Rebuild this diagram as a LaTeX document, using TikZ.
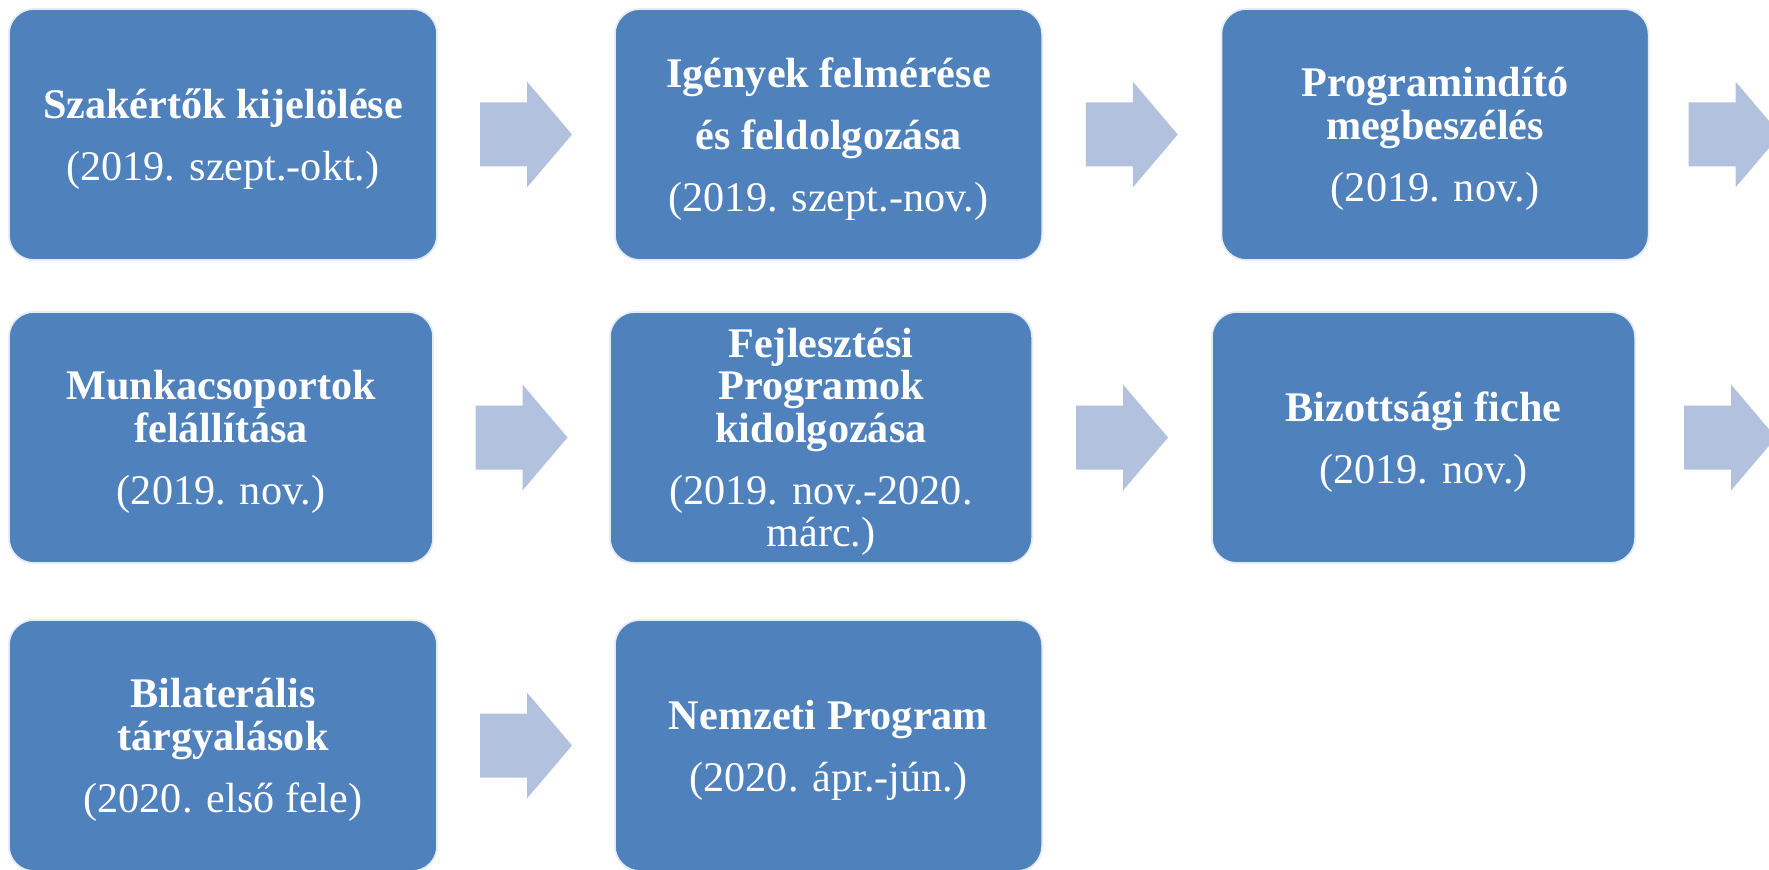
\documentclass[tikz,border=0pt]{standalone}
\usepackage{fontspec}
\setmainfont{Liberation Serif}
\usepackage{tikz}
\usetikzlibrary{calc,positioning}

\definecolor{boxblue}{HTML}{4F81BD}
\definecolor{arrowblue}{HTML}{B2C1DE}

\begin{document}
\begin{tikzpicture}[x=0.01cm, y=-0.01cm,
        phase/.style = {rectangle, rounded corners=0.25cm, fill=boxblue, draw=white!85!boxblue,
            line width=0.5pt, inner sep=0pt, minimum height=2.51cm},
        phasetext/.style = {text=white, align=center, inner sep=0pt,
            font=\fontsize{12}{12.1}\selectfont},
        flowarrow/.pic = {\fill[arrowblue] (-46,-32) -- (1,-32) -- (1,-53) -- (46,0)
            -- (1,53) -- (1,32) -- (-46,32) -- cycle;}]
    \clip (0,0) rectangle (1769,870);
    % boxes
    \node [phase, minimum width=4.28cm] (b1) at (223,134.5) {};
    \node [phase, minimum width=4.27cm] (b2) at (828.5,134.5) {};
    \node [phase, minimum width=4.27cm] (b3) at (1435,134.5) {};
    \node [phase, minimum width=4.24cm] (b4) at (221,437.5) {};
    \node [phase, minimum width=4.22cm] (b5) at (821,437.5) {};
    \node [phase, minimum width=4.23cm] (b6) at (1423.5,437.5) {};
    \node [phase, minimum width=4.28cm] (b7) at (223,745.5) {};
    \node [phase, minimum width=4.27cm] (b8) at (828.5,745.5) {};
    % texts
    \node [phasetext] (t1) at ([yshift=-0.045cm]b1.center)
        {\textbf{Szakértők kijelölése}\\[5.5pt](2019. szept.-okt.)};
    \node [phasetext] (t2) at ([yshift=-0.045cm]b2.center)
        {\textbf{Igények felmérése}\\[5.5pt]\textbf{és feldolgozása}\\[5.5pt](2019. szept.-nov.)};
    \node [phasetext] (t3) at ([yshift=-0.045cm]b3.center)
        {\textbf{Programindító}\\\textbf{megbeszélés}\\[5.5pt](2019. nov.)};
    \node [phasetext] (t4) at ([yshift=-0.045cm]b4.center)
        {\textbf{Munkacsoportok}\\\textbf{felállítása}\\[5.5pt](2019. nov.)};
    \node [phasetext] (t5) at ([yshift=-0.045cm]b5.center)
        {\textbf{Fejlesztési}\\\textbf{Programok}\\\textbf{kidolgozása}\\[5.5pt](2019. nov.-2020.\\márc.)};
    \node [phasetext] (t6) at ([yshift=-0.045cm]b6.center)
        {\textbf{Bizottsági fiche}\\[5.5pt](2019. nov.)};
    \node [phasetext] (t7) at ([yshift=-0.045cm]b7.center)
        {\textbf{Bilaterális}\\\textbf{tárgyalások}\\[5.5pt](2020. első fele)};
    \node [phasetext] (t8) at ([yshift=-0.045cm]b8.center)
        {\textbf{Nemzeti Program}\\[5.5pt](2020. ápr.-jún.)};
    % arrows
    \pic at ($(b1.east)!0.5!(b2.west)$) {flowarrow};
    \pic at ($(b2.east)!0.5!(b3.west)$) {flowarrow};
    \pic at ($(b3.east)+(85,0)$) {flowarrow};
    \pic at ($(b4.east)!0.5!(b5.west)$) {flowarrow};
    \pic at ($(b5.east)!0.5!(b6.west)$) {flowarrow};
    \pic at ($(b6.east)+(94,0)$) {flowarrow};
    \pic at ($(b7.east)!0.5!(b8.west)$) {flowarrow};
\end{tikzpicture}
\end{document}
